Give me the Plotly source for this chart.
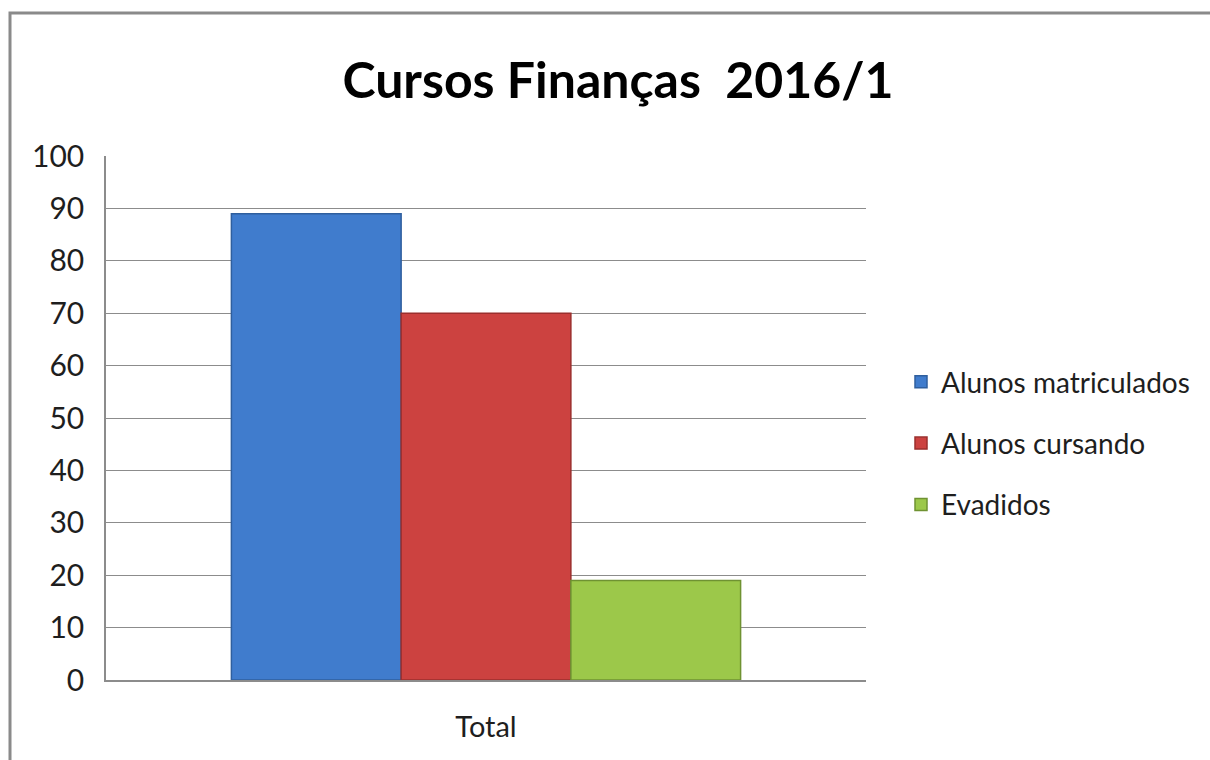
import plotly.graph_objects as go

# Enrolment figures for the finance courses, semester 2016/1
categories = ["Total"]
series_names = ["Alunos matriculados", "Alunos cursando", "Evadidos"]
matriculados = [89]
cursando = [70]
evadidos = [19]
y_ticks = list(range(0, 101, 10))

fill_colors = ["#407ccd", "#cc4240", "#9cc84a"]
edge_colors = ["#2f5f9e", "#9b2f2d", "#6f9232"]

W, H = 1210, 760
L, R, T, B = 106, W - 866, 156, H - 680
pw, ph = W - L - R, H - T - B

fig = go.Figure()
for name, vals, fc, ec in zip(series_names, [matriculados, cursando, evadidos], fill_colors, edge_colors):
    fig.add_trace(go.Bar(
        x=categories, y=vals, name=name, legendgroup=name,
        marker=dict(color=fc, line=dict(color=ec, width=1.5)),
    ))

def px_x(p):
    return (p - L) / pw

def px_y(p):
    return 1 - (p - T) / ph

fig.update_layout(
    width=W, height=H,
    margin=dict(l=L, r=R, t=T, b=B),
    paper_bgcolor="white", plot_bgcolor="white",
    font=dict(family="Lato, sans-serif", color="#1e1e1e", size=28),
    title=dict(text="<b>Cursos Finanças  2016/1</b>", x=px_x(618), xanchor="center",
               xref="paper", y=1 - 80 / H, yanchor="middle",
               font=dict(size=50, color="#000000")),
    barmode="group", bargap=0.33, bargroupgap=0,
    legend=dict(x=px_x(901), xanchor="left", y=px_y(357), yanchor="top",
                font=dict(size=28), tracegroupgap=22, traceorder="grouped",
                itemwidth=30),
    xaxis=dict(showline=True, linecolor="#8c8c8c", linewidth=1.5, ticks="",
               tickfont=dict(size=29), mirror=False, ticklabelstandoff=20),
    yaxis=dict(range=[0, 100], tickvals=y_ticks, showgrid=True, gridcolor="#8c8c8c",
               gridwidth=1, showline=True, linecolor="#8c8c8c", linewidth=1.5,
               ticks="", tickfont=dict(size=30), ticklabelstandoff=14, zeroline=False),
    shapes=[dict(type="rect", xref="paper", yref="paper",
                 x0=px_x(10), x1=px_x(W + 20), y0=px_y(H + 20), y1=px_y(13),
                 line=dict(color="#8a8a8a", width=3), fillcolor="rgba(0,0,0,0)",
                 layer="below")],
)

fig.write_html("out.html")
